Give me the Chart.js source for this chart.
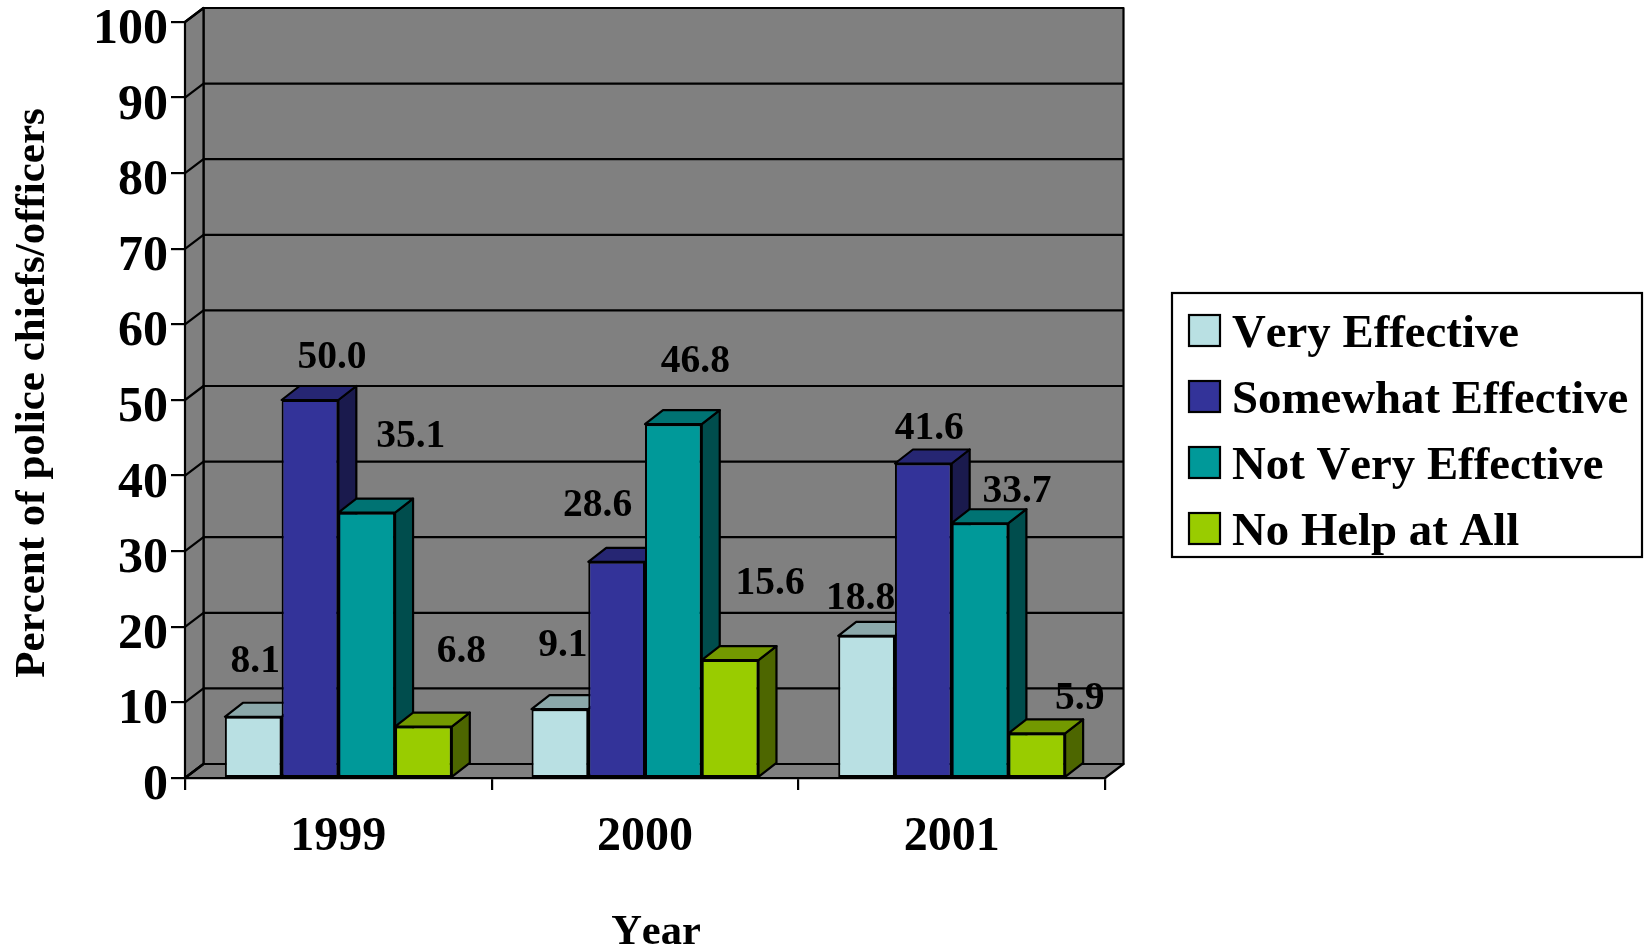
<!DOCTYPE html>
<html>
<head>
<meta charset="utf-8">
<title>Effectiveness</title>
<script src="https://cdn.jsdelivr.net/npm/chart.js@4/dist/chart.umd.min.js"></script>
<style>
    html, body { margin: 0; background: #fff; }
    canvas { display: block; }
</style>
</head>
<body>
<canvas id="chart" width="1649" height="951"></canvas>
<script>
"use strict";

const years = ['1999', '2000', '2001'];
const veryEffective = [8.1, 9.1, 18.8];
const somewhatEffective = [50.0, 28.6, 41.6];
const notVeryEffective = [35.1, 46.8, 33.7];
const noHelpAtAll = [6.8, 15.6, 5.9];

const seriesNames = ['Very Effective', 'Somewhat Effective', 'Not Very Effective', 'No Help at All'];
const seriesColors = ['#b9e0e3', '#333399', '#009999', '#99cc00'];

const yTicks = [0, 10, 20, 30, 40, 50, 60, 70, 80, 90, 100];

const FONT = '"Liberation Serif", "Times New Roman", serif';
const LINE = 2.2;
const WALL_DX = 18.5, WALL_DY = 14;
const BAR_DX = 18, BAR_DY = 14;

// the value labels sit loosely above their bars in the original, [dx, dy] from the bar top
const labelNudge = [
    [[2, -55], [3, -63], [-6, -37]],
    [[22, -42], [-19, -56], [6, -35]],
    [[44, -76], [22, -62], [37, -31]],
    [[38, -75], [40, -76], [43, -35]]
];

const shade = (hex, f) => {
    const n = parseInt(hex.slice(1), 16);
    const c = [n >> 16, (n >> 8) & 255, n & 255].map(v => Math.round(v * f));
    return `rgb(${c[0]}, ${c[1]}, ${c[2]})`;
};

const poly = (ctx, pts, fill) => {
    ctx.beginPath();
    pts.forEach((p, i) => i ? ctx.lineTo(p[0], p[1]) : ctx.moveTo(p[0], p[1]));
    ctx.closePath();
    if (fill) {
        ctx.fillStyle = fill;
        ctx.fill();
    }
    ctx.stroke();
};

const walls3d = {
    id: 'walls3d',
    beforeDatasetsDraw(chart) {
        const { ctx, chartArea: a, scales } = chart;
        const y = scales.y;
        ctx.save();
        ctx.strokeStyle = '#000';
        ctx.lineWidth = LINE;
        ctx.lineJoin = 'round';

        // back wall, side wall, floor
        poly(ctx, [[a.left + WALL_DX, a.top - WALL_DY], [a.right + WALL_DX, a.top - WALL_DY],
            [a.right + WALL_DX, a.bottom - WALL_DY], [a.left + WALL_DX, a.bottom - WALL_DY]], '#808080');
        poly(ctx, [[a.left, a.top], [a.left + WALL_DX, a.top - WALL_DY],
            [a.left + WALL_DX, a.bottom - WALL_DY], [a.left, a.bottom]], '#808080');
        poly(ctx, [[a.left, a.bottom], [a.left + WALL_DX, a.bottom - WALL_DY],
            [a.right + WALL_DX, a.bottom - WALL_DY], [a.right, a.bottom]], '#808080');

        yTicks.forEach(v => {
            const py = y.getPixelForValue(v);
            ctx.beginPath();
            ctx.moveTo(a.left, py);
            ctx.lineTo(a.left + WALL_DX, py - WALL_DY);
            ctx.lineTo(a.right + WALL_DX, py - WALL_DY);
            ctx.stroke();
        });

        // bar tops and sides, left to right so nearer ones cover the ones behind
        years.forEach((yr, k) => {
            seriesNames.forEach((name, i) => {
                const bar = chart.getDatasetMeta(i).data[k];
                const l = bar.x - bar.width / 2, r = bar.x + bar.width / 2;
                const col = seriesColors[i];
                poly(ctx, [[r, bar.y], [r + BAR_DX, bar.y - BAR_DY], [r + BAR_DX, bar.base - BAR_DY], [r, bar.base]], shade(col, 0.5));
                poly(ctx, [[l, bar.y], [l + BAR_DX, bar.y - BAR_DY], [r + BAR_DX, bar.y - BAR_DY], [r, bar.y]], shade(col, 0.75));
            });
        });
        ctx.restore();
    },
    afterDatasetsDraw(chart) {
        const { ctx } = chart;
        ctx.save();
        ctx.fontKerning = 'none';
        ctx.fillStyle = '#000';
        ctx.font = `bold 39.5px ${FONT}`;
        ctx.textAlign = 'center';
        ctx.textBaseline = 'middle';
        chart.data.datasets.forEach((ds, i) => {
            chart.getDatasetMeta(i).data.forEach((bar, k) => {
                const n = labelNudge[i][k];
                ctx.fillText(ds.data[k].toFixed(1), bar.x + n[0], bar.y + n[1]);
            });
        });

        // axis titles
        const a = chart.chartArea;
        ctx.font = `bold 42.5px ${FONT}`;
        ctx.fillText('Year', a.left + 471, 933);
        ctx.font = `bold 43px ${FONT}`;
        ctx.translate(33, 393);
        ctx.rotate(-Math.PI / 2);
        ctx.fillText('Percent of police chiefs/officers', 0, 0);
        ctx.restore();
    },
    afterDraw(chart) {
        const { ctx } = chart;
        const boxX = 1172, boxY = 293, boxW = 470, boxH = 264;
        ctx.save();
        ctx.fontKerning = 'none';
        ctx.strokeStyle = '#000';
        ctx.lineWidth = LINE;
        ctx.strokeRect(boxX, boxY, boxW, boxH);
        ctx.font = `bold 46.8px ${FONT}`;
        ctx.textAlign = 'left';
        ctx.textBaseline = 'alphabetic';
        chart.data.datasets.forEach((ds, i) => {
            const top = boxY + 22 + i * 66;
            ctx.fillStyle = ds.backgroundColor;
            ctx.fillRect(1189, top, 31, 31);
            ctx.strokeRect(1189, top, 31, 31);
            ctx.fillStyle = '#000';
            ctx.fillText(ds.label, 1232, top + 32);
        });
        ctx.restore();
    }
};

const ctx = document.getElementById('chart').getContext('2d');
new Chart(ctx, {
    type: 'bar',
    data: {
        labels: years,
        datasets: [veryEffective, somewhatEffective, notVeryEffective, noHelpAtAll].map((values, i) => ({
            label: seriesNames[i],
            data: values,
            backgroundColor: seriesColors[i],
            borderColor: '#000',
            borderWidth: 2,
            borderSkipped: false
        }))
    },
    options: {
        responsive: false,
        animation: false,
        datasets: { bar: { categoryPercentage: 0.74, barPercentage: 1 } },
        layout: { padding: { top: 22, right: 544, bottom: 0, left: 0 } },
        plugins: {
            legend: { display: false },
            tooltip: { enabled: false }
        },
        scales: {
            x: {
                afterFit: (s) => { s.height = 173; },
                grid: { drawOnChartArea: false, color: '#000', lineWidth: LINE, tickLength: 12 },
                border: { color: '#000', width: LINE },
                ticks: { color: '#000', font: { family: FONT, size: 48, weight: 'bold' }, padding: 19, maxRotation: 0 }
            },
            y: {
                min: 0,
                max: 100,
                // tick labels must not push the plot down from the top of the page
                afterFit: (s) => { s.width = 185; s.paddingTop = 0; s.paddingBottom = 0; },
                afterBuildTicks: (s) => { s.ticks = yTicks.map(v => ({ value: v })); },
                grid: { drawOnChartArea: false, color: '#000', lineWidth: LINE, tickLength: 14 },
                border: { color: '#000', width: LINE },
                ticks: { color: '#000', font: { family: FONT, size: 50, weight: 'bold' }, padding: 3, labelOffset: 8 }
            }
        }
    },
    plugins: [walls3d]
});
</script>
</body>
</html>
